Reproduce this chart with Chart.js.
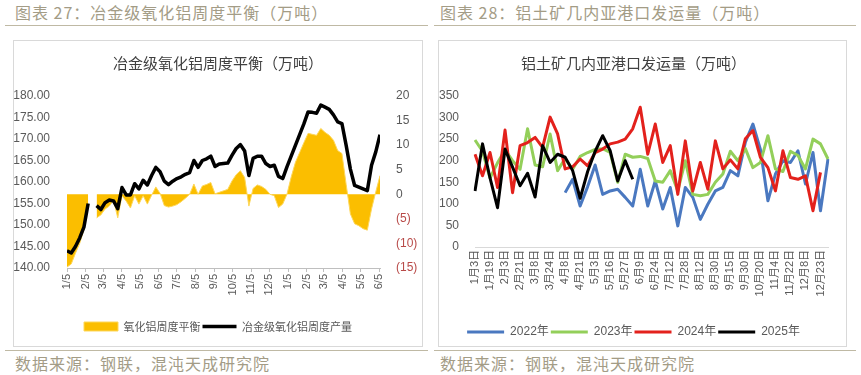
<!DOCTYPE html>
<html>
<head>
<meta charset="utf-8">
<script src="https://cdn.jsdelivr.net/npm/chart.js@4.4.1/dist/chart.umd.min.js"></script>
<style>
  body { margin: 0; width: 861px; height: 375px; background: #fff; position: relative; overflow: hidden; font-family: 'Noto Sans CJK SC', sans-serif; }
  .cap { position: absolute; font-size: 16px; letter-spacing: 1px; color: #a39c86; white-space: nowrap; line-height: 20px; }
  .rule { position: absolute; height: 0; border-top: 1.5px solid #bfb9a4; }
  .box { position: absolute; top: 40px; border: 1px solid #d9d9d9; }
  .box canvas { display: block; }
</style>
</head>
<body>
<div class="cap" style="left:15px;top:2px">图表 27：冶金级氧化铝周度平衡（万吨）</div>
<div class="cap" style="left:440px;top:2px">图表 28：铝土矿几内亚港口发运量（万吨）</div>
<div class="rule" style="left:5px;top:25px;width:423px"></div>
<div class="rule" style="left:434px;top:25px;width:422px"></div>

<div class="box" style="left:13px"><canvas id="c27" width="408" height="305"></canvas></div>
<div class="box" style="left:438px"><canvas id="c28" width="407" height="305"></canvas></div>

<div class="rule" style="left:5px;top:350px;width:423px"></div>
<div class="rule" style="left:434px;top:350px;width:422px"></div>
<div class="cap" style="left:15px;top:353px">数据来源：钢联，混沌天成研究院</div>
<div class="cap" style="left:440px;top:353px">数据来源：钢联，混沌天成研究院</div>

<script>
// ---------- 图表27 数据（周度，起始 2024-01-05）----------
const weekStart = '2024-01-05';
const tickDates = ['2024-01-05', '2024-02-05', '2024-03-05', '2024-04-05', '2024-05-05', '2024-06-05',
  '2024-07-05', '2024-08-05', '2024-09-05', '2024-10-05', '2024-11-05', '2024-12-05',
  '2025-01-05', '2025-02-05', '2025-03-05', '2025-04-05', '2025-05-05', '2025-06-05'];
const tickLabels27 = ['1/5', '2/5', '3/5', '4/5', '5/5', '6/5', '7/5', '8/5', '9/5', '10/5', '11/5', '12/5',
  '1/5', '2/5', '3/5', '4/5', '5/5', '6/5'];

// 冶金级氧化铝周度产量（左轴）
const supply = [144.0, 143.5, 145.0, 147.0, 149.5, 155.0, null, 154.5, 153.6, 155.2,
  155.8, 155.6, 153.8, 158.7, 157.0, 157.0, 159.6, 158.4, 160.4, 159.3,
  161.5, 163.4, 162.4, 160.2, 159.4, 160.2, 160.8, 161.2, 161.8, 162.2,
  165.0, 163.4, 165.0, 165.4, 166.0, 163.6, 164.2, 164.3, 164.4, 166.2,
  167.8, 168.7, 167.2, 161.5, 165.5, 166.0, 166.0, 164.3, 163.6, 163.9,
  161.3, 160.8, 163.5, 166.0, 168.5, 171.0, 173.5, 176.3, 176.2, 176.0,
  177.9, 177.4, 176.9, 175.6, 174.0, 173.6, 168.5, 163.0, 159.2, 158.8,
  158.4, 158.0, 163.9, 167.0, 171.0];

// 氧化铝周度平衡（右轴）
const balance = [-14.8, -14.2, -12.0, -10.0, -7.2, -2.0, null, -4.8, -4.2, -3.0,
  -2.4, -1.2, -4.8, -0.3, -1.4, -2.8, -0.3, -2.0, -0.3, -2.0,
  -0.2, 1.5, 0.2, -2.3, -2.6, -2.4, -2.1, -1.5, -0.8, 0.0,
  2.1, 0.0, 1.7, 2.0, 2.4, 0.1, 0.4, 0.7, 1.0, 2.7,
  4.0, 4.8, 3.4, -2.4, 1.2, 1.9, 1.6, 1.0, 0.0, -0.3,
  -2.7, -2.0, 0.0, 3.5, 6.5, 8.5, 10.5, 12.4, 12.2, 12.0,
  13.4, 12.6, 12.0, 11.0, 8.9, 8.3, 2.0, -4.0, -6.0, -6.4,
  -7.0, -7.3, -3.0, 0.5, 3.8];

// ---------- 图表28 数据 ----------
const dates28 = ['1月3日', '1月11日', '1月19日', '1月27日', '2月3日', '2月12日', '2月21日', '2月28日',
  '3月8日', '3月16日', '3月24日', '3月31日', '4月8日', '4月14日', '4月21日', '4月27日',
  '5月3日', '5月9日', '5月16日', '5月21日', '5月27日', '6月2日', '6月9日', '6月16日',
  '6月24日', '7月3日', '7月12日', '7月20日', '7月28日', '8月4日', '8月12日', '8月21日',
  '8月30日', '9月7日', '9月15日', '9月22日', '9月30日', '10月10日', '10月20日', '10月27日',
  '11月4日', '11月13日', '11月22日', '11月30日', '12月8日', '12月15日', '12月23日', '12月30日'];

const y2022 = [null, null, null, null, null, null, null, null, null, null, null, null,
  126, 157, 95, 140, 190, 122, 130, 134, 115, 95,
  180, 95, 153, 88, 138, 49, 138, 115, 64, 99,
  130, 138, 177, 165, 243, 285, 226, 107, 169, 200,
  196, 223, 146, 219, 84, 204];
const y2023 = [248, 222, 160, 195, 225, 200, 180, 274, 190, 186,
  262, 177, 205, 180, 210, 219, 226, 228, 219, 150,
  215, 208, 210, 205, 153, 150, 177, 130, 200, 122,
  119, 122, 150, 169, 222, 200, 228, 184, 196, 258,
  181, 175, 222, 212, 181, 250, 239, 204];
const y2024 = [215, 165, 219, 138, 271, 126, 235, 242, 254, 231,
  301, 262, 181, 186, 204, 188, 219, 227, 239, 243,
  250, 274, 324, 215, 285, 196, 235, 122, 246, 130,
  196, 134, 246, 181, 202, 181, 251, 270, 208, 184,
  130, 223, 161, 157, 165, 84, 173, null];
const y2025 = [130, 239, 160, 91, 227, 185, 142, 171, 116, 235,
  196, 215, 208, 177, 113, 175, 222, 258, 223, 153,
  200, 157];

Chart.defaults.animation = false;
Chart.defaults.font.family = "'Liberation Sans', 'Noto Sans CJK SC', sans-serif";
Chart.defaults.color = '#595959';

const cjk = "'Noto Sans CJK SC', sans-serif";
const dayMs = 86400000;
const t0 = Date.parse(weekStart);
const tickDays = tickDates.map(d => Math.round((Date.parse(d) - t0) / dayMs));
const toXY = arr => arr.map((v, i) => ({ x: i * 7, y: v }));

// 图表27：冶金级氧化铝周度平衡
new Chart(document.getElementById('c27'), {
  type: 'line',
  data: {
    datasets: [{
      label: '氧化铝周度平衡',
      data: toXY(balance),
      yAxisID: 'y1',
      fill: 'origin',
      backgroundColor: '#FBBE00',
      borderColor: '#FDD75A',
      borderWidth: 1,
      pointRadius: 0,
      pointStyle: 'rect',
      order: 1
    }, {
      label: '冶金级氧化铝周度产量',
      data: toXY(supply),
      yAxisID: 'y',
      borderColor: '#000',
      backgroundColor: '#000',
      borderWidth: 3.5,
      borderJoinStyle: 'round',
      pointRadius: 0,
      pointStyle: 'line',
      order: 0
    }]
  },
  options: {
    responsive: false,
    layout: { padding: { left: 0, right: 0, top: 0, bottom: 4 } },
    plugins: {
      title: {
        display: true,
        text: '冶金级氧化铝周度平衡（万吨）',
        color: '#404040',
        font: { size: 15, weight: 'normal', family: cjk },
        padding: { top: 13, bottom: 24 }
      },
      legend: {
        position: 'bottom',
        labels: {
          usePointStyle: true,
          pointStyleWidth: 34,
          boxHeight: 9,
          padding: 2,
          color: '#595959',
          font: { size: 11, family: cjk },
          sort: (a, b) => a.datasetIndex - b.datasetIndex
        }
      },
      tooltip: { enabled: false }
    },
    scales: {
      x: {
        type: 'linear',
        min: 0,
        max: (supply.length - 1) * 7,
        afterBuildTicks: axis => { axis.ticks = tickDays.map(v => ({ value: v })); },
        afterFit: axis => { axis.height = 51; },
        grid: { drawOnChartArea: false, tickLength: 4, color: '#bfbfbf' },
        border: { color: '#bfbfbf' },
        ticks: {
          autoSkip: false,
          minRotation: 90,
          maxRotation: 90,
          padding: 2,
          font: { size: 11 },
          callback: v => tickLabels27[tickDays.indexOf(v)]
        }
      },
      y: {
        position: 'left',
        min: 140,
        max: 180,
        afterFit: axis => { axis.width = 53; },
        grid: { display: false },
        border: { display: false },
        ticks: { stepSize: 5, padding: 9, font: { size: 12 }, callback: v => v.toFixed(2) }
      },
      y1: {
        position: 'right',
        min: -15,
        max: 20,
        afterFit: axis => { axis.width = 42; },
        grid: { display: false },
        border: { display: false },
        ticks: {
          stepSize: 5,
          padding: 8,
          font: { size: 12 },
          color: ctx => ctx.tick.value < 0 ? '#b84a48' : '#595959',
          callback: v => v < 0 ? '(' + (-v) + ')' : String(v)
        }
      }
    }
  }
});

// 图表28：铝土矿几内亚港口发运量
const lineSet = (label, data, color, order) => ({
  label, data, order,
  borderColor: color,
  backgroundColor: color,
  borderWidth: 3,
  borderJoinStyle: 'round',
  pointRadius: 0,
  pointStyle: 'line',
  fill: false
});

new Chart(document.getElementById('c28'), {
  type: 'line',
  data: {
    labels: dates28,
    datasets: [
      lineSet('2022年', y2022, '#4a78c0', 3),
      lineSet('2023年', y2023, '#93cf5a', 2),
      lineSet('2024年', y2024, '#e3211c', 1),
      lineSet('2025年', y2025, '#000000', 0)
    ]
  },
  options: {
    responsive: false,
    layout: { padding: { left: 0, right: 18, top: 0, bottom: -2 } },
    plugins: {
      title: {
        display: true,
        text: '铝土矿几内亚港口发运量（万吨）',
        color: '#404040',
        font: { size: 15, weight: 'normal', family: cjk },
        padding: { top: 13, bottom: 24 }
      },
      legend: {
        position: 'bottom',
        labels: {
          usePointStyle: true,
          pointStyleWidth: 37,
          boxHeight: 9,
          padding: 2,
          color: '#595959',
          font: { size: 12 },
          sort: (a, b) => a.datasetIndex - b.datasetIndex
        }
      },
      tooltip: { enabled: false }
    },
    scales: {
      x: {
        afterFit: axis => { axis.height = 77; },
        grid: { display: false, drawTicks: false },
        border: { color: '#d9d9d9' },
        ticks: {
          autoSkip: false,
          minRotation: 90,
          maxRotation: 90,
          padding: 3,
          font: { size: 11 },
          callback: (v, i) => i % 2 === 0 ? dates28[i] : ''
        }
      },
      y: {
        min: 0,
        max: 350,
        afterFit: axis => { axis.width = 36; },
        grid: { display: false, drawTicks: false },
        border: { display: false },
        ticks: { stepSize: 50, padding: 16, font: { size: 12 } }
      }
    }
  }
});
</script>
</body>
</html>
